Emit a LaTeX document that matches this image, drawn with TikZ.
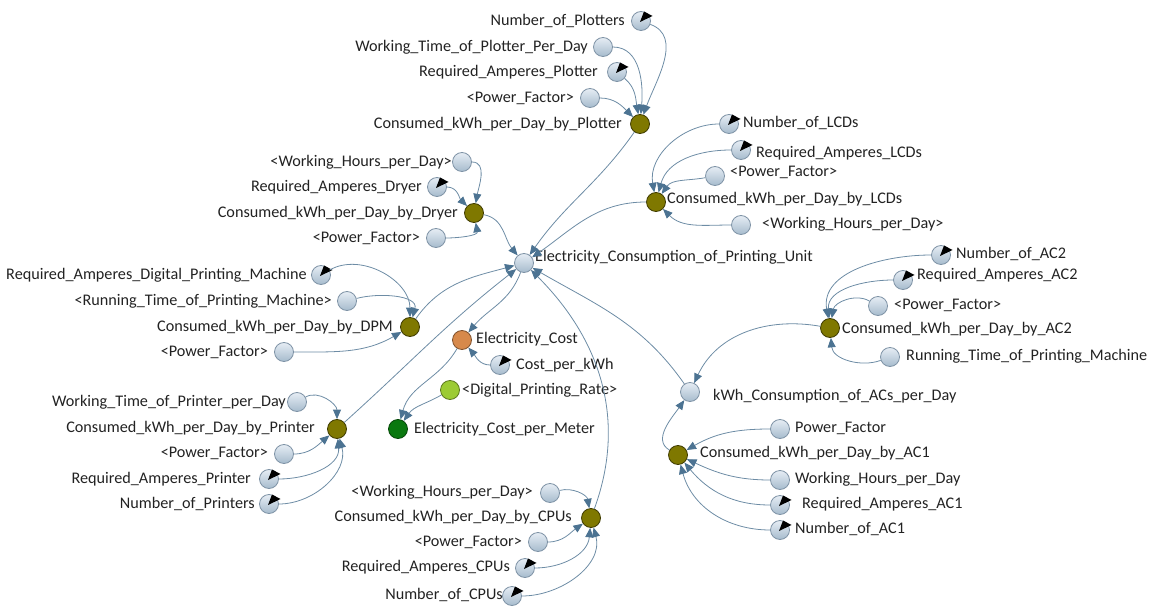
\documentclass[tikz,border=0pt]{standalone}
\usepackage{fontspec}
\setmainfont{Carlito}
\usetikzlibrary{arrows.meta}
\definecolor{linkc}{HTML}{6D8CA5}
\definecolor{tipc}{HTML}{4C7392}
\definecolor{rimc}{HTML}{7F93A6}
\definecolor{vtop}{HTML}{E6EDF4}
\definecolor{vbot}{HTML}{A6BBCD}
\definecolor{olive}{HTML}{7F7800}
\definecolor{olrim}{HTML}{3F3B00}
\definecolor{costc}{HTML}{D7894B}
\definecolor{ratec}{HTML}{9CCB33}
\definecolor{meterc}{HTML}{0A780F}
\definecolor{txt}{HTML}{222222}
\tikzset{
  var/.style={circle,minimum size=19pt,inner sep=0pt,draw=rimc,line width=0.8pt,
              top color=vtop,bottom color=vbot},
  aux/.style={circle,minimum size=19pt,inner sep=0pt,draw=olrim,line width=0.8pt,fill=olive},
  costv/.style={aux,fill=costc,draw=costc!60!black},
  ratev/.style={aux,fill=ratec,draw=ratec!60!black},
  meterv/.style={aux,fill=meterc,draw=meterc!60!black},
  lbl/.style={inner sep=0pt,text=txt,yshift=-2pt,font=\fontsize{16.2}{18}\selectfont},
  lw/.style={lbl,anchor=mid west},
  le/.style={lbl,anchor=mid east},
  link/.style={draw=linkc,line width=0.8pt,
               -{Triangle[length=9.5pt,width=8pt,fill=tipc,color=tipc]}},
}
\begin{document}
\begin{tikzpicture}[x=1pt,y=1pt]
\useasboundingbox (0,0) rectangle (1156,-612);

% ---- plotter block
\node[var] (NP)  at (641,-21)  {};
\node[var] (WTP) at (603,-47)  {};
\node[var] (RAP) at (617,-72)  {};
\node[var] (PFP) at (590,-98)  {};
\node[aux] (P)   at (640,-124) {};
\node[le] (tNP)  at (625,-21)  {Number\_of\_Plotters};
\node[le] (tWTP) at (588,-47)  {Working\_Time\_of\_Plotter\_Per\_Day};
\node[le] (tRAP) at (598,-72)  {Required\_Amperes\_Plotter};
\node[le] (tPFP) at (574,-98)  {<Power\_Factor>};
\node[le] (tP)   at (622,-124) {Consumed\_kWh\_per\_Day\_by\_Plotter};

% ---- LCD block
\node[var] (NL)  at (729,-124) {};
\node[var] (RAL) at (741,-150) {};
\node[var] (PFL) at (715,-176) {};
\node[aux] (L)   at (656,-202) {};
\node[var] (WHL) at (741,-225) {};
\node[lw] (tNL)  at (743,-123) {Number\_of\_LCDs};
\node[lw] (tRAL) at (756,-153) {Required\_Amperes\_LCDs};
\node[lw] (tPFL) at (730,-172) {<Power\_Factor>};
\node[lw] (tL)   at (667,-199) {Consumed\_kWh\_per\_Day\_by\_LCDs};
\node[lw] (tWHL) at (762,-224) {<Working\_Hours\_per\_Day>};

% ---- dryer block
\node[var] (WHD) at (462,-162) {};
\node[var] (RAD) at (437,-187) {};
\node[aux] (D)   at (474,-213) {};
\node[var] (PFD) at (436,-238) {};
\node[le] (tWHD) at (452,-162) {<Working\_Hours\_per\_Day>};
\node[le] (tRAD) at (422,-187) {Required\_Amperes\_Dryer};
\node[le] (tD)   at (458,-213) {Consumed\_kWh\_per\_Day\_by\_Dryer};
\node[le] (tPFD) at (420,-238) {<Power\_Factor>};

% ---- total consumption
\node[var] (E) at (524,-263) {};
\node[lw] (tE) at (535,-257) {Electricity\_Consumption\_of\_Printing\_Unit};

% ---- digital printing machine block
\node[var] (RAM) at (321,-275) {};
\node[var] (RTM) at (347,-301) {};
\node[aux] (M)   at (410,-327) {};
\node[var] (PFM) at (284,-352) {};
\node[le] (tRAM) at (307,-275) {Required\_Amperes\_Digital\_Printing\_Machine};
\node[le] (tRTM) at (332,-301) {<Running\_Time\_of\_Printing\_Machine>};
\node[le] (tM)   at (393,-327) {Consumed\_kWh\_per\_Day\_by\_DPM};
\node[le] (tPFM) at (268,-352) {<Power\_Factor>};

% ---- cost block
\node[costv]  (K)   at (462,-340) {};
\node[var]    (CK)  at (500,-365) {};
\node[ratev]  (DPR) at (450,-390) {};
\node[meterv] (CM)  at (398,-429) {};
\node[lw] (tK)   at (476,-339) {Electricity\_Cost};
\node[lw] (tCK)  at (516,-365) {Cost\_per\_kWh};
\node[lw] (tDPR) at (462,-390) {<Digital\_Printing\_Rate>};
\node[lw] (tCM)  at (414,-429) {Electricity\_Cost\_per\_Meter};

% ---- air conditioner blocks
\node[var] (NA2) at (941,-255) {};
\node[var] (RA2) at (903,-280) {};
\node[var] (PF2) at (878,-306) {};
\node[aux] (A2)  at (830,-328) {};
\node[var] (RT2) at (890,-357) {};
\node[var] (KA)  at (690,-392) {};
\node[var] (PF1) at (780,-429) {};
\node[aux] (A1)  at (678,-455) {};
\node[var] (WH1) at (780,-480) {};
\node[var] (RA1) at (780,-505) {};
\node[var] (N1)  at (780,-530) {};
\node[lw] (tNA2) at (956,-254) {Number\_of\_AC2};
\node[lw] (tRA2) at (917,-275) {Required\_Amperes\_AC2};
\node[lw] (tPF2) at (894,-305) {<Power\_Factor>};
\node[lw] (tA2)  at (842,-329) {Consumed\_kWh\_per\_Day\_by\_AC2};
\node[lw] (tRT2) at (906,-356) {Running\_Time\_of\_Printing\_Machine};
\node[lw] (tKA)  at (713,-396) {kWh\_Consumption\_of\_ACs\_per\_Day};
\node[lw] (tPF1) at (795,-428) {Power\_Factor};
\node[lw] (tA1)  at (700,-453) {Consumed\_kWh\_per\_Day\_by\_AC1};
\node[lw] (tWH1) at (795,-479) {Working\_Hours\_per\_Day};
\node[lw] (tRA1) at (802,-504) {Required\_Amperes\_AC1};
\node[lw] (tN1)  at (795,-529) {Number\_of\_AC1};

% ---- printer block
\node[var] (WTR) at (297,-402) {};
\node[aux] (R)   at (337,-429) {};
\node[var] (PFR) at (284,-454) {};
\node[var] (RAR) at (269,-479) {};
\node[var] (NR)  at (269,-504) {};
\node[le] (tWTR) at (286,-402) {Working\_Time\_of\_Printer\_per\_Day};
\node[le] (tR)   at (315,-428) {Consumed\_kWh\_per\_Day\_by\_Printer};
\node[le] (tPFR) at (268,-453) {<Power\_Factor>};
\node[le] (tRAR) at (251,-479) {Required\_Amperes\_Printer};
\node[le] (tNR)  at (255,-504) {Number\_of\_Printers};

% ---- CPU block
\node[var] (WHC) at (550,-493) {};
\node[aux] (C)   at (591,-518) {};
\node[var] (PFC) at (538,-542) {};
\node[var] (RAC) at (525,-568) {};
\node[var] (NC)  at (512,-596) {};
\node[le] (tWHC) at (533,-492) {<Working\_Hours\_per\_Day>};
\node[le] (tC)   at (572,-517) {Consumed\_kWh\_per\_Day\_by\_CPUs};
\node[le] (tPFC) at (522,-542) {<Power\_Factor>};
\node[le] (tRAC) at (510,-567) {Required\_Amperes\_CPUs};
\node[le] (tNC)  at (503,-595) {Number\_of\_CPUs};

% ---- gauge needles on constants
\foreach \n in {NP,RAP,NL,RAL,RAD,RAM,CK,NA2,RA2,RA1,N1,RAR,NR,RAC,NC}
  \fill[black] ([shift={(-1,-1)}]\n.center) -- ([shift={(3,9.5)}]\n.center)
               -- ([shift={(11.5,5)}]\n.center) -- cycle;

% ---- links
\draw[link] (NP)  to[out=-20,in=70]  (P);
\draw[link] (WTP) to[out=0,in=85]    (P);
\draw[link] (RAP) to[out=-40,in=100] (P);
\draw[link] (PFP) to[out=0,in=135]   (P);
\draw[link] (P)   to[out=-125,in=55] (E);

\draw[link] (NL)  to[out=180,in=100] (L);
\draw[link] (RAL) to[out=180,in=75]  (L);
\draw[link] (PFL) to[out=190,in=55]  (L);
\draw[link] (WHL) to[out=180,in=-45] (L);
\draw[link] (L)   to[out=180,in=35]  (E);

\draw[link] (WHD) to[out=0,in=80]    (D);
\draw[link] (RAD) to[out=0,in=135]   (D);
\draw[link] (PFD) to[out=0,in=-80]   (D);
\draw[link] (D)   to[out=-10,in=130] (E);

\draw[link] (RAM) to[out=30,in=90]   (M);
\draw[link] (RTM) to[out=15,in=75]   (M);
\draw[link] (PFM) to[out=0,in=210]   (M);
\draw[link] (M)   to[out=55,in=195]  (E);

\draw[link] (WTR) to[out=30,in=90]   (R);
\draw[link] (PFR) to[out=0,in=220]   (R);
\draw[link] (RAR) to[out=0,in=-85]   (R);
\draw[link] (NR)  to[out=0,in=-75]   (R);
\draw[link] (R)   to[out=42,in=218]  (E);

\draw[link] (WHC) to[out=15,in=100]  (C);
\draw[link] (PFC) to[out=0,in=215]   (C);
\draw[link] (RAC) to[out=0,in=-95]   (C);
\draw[link] (NC)  to[out=0,in=-75]   (C);
\draw[link] (C)   to[out=70,in=-45]  (E);

\draw[link] (E)   to[out=-110,in=50] (K);
\draw[link] (CK)  to[out=180,in=-50] (K);
\draw[link] (K)   to[out=-120,in=75] (CM);
\draw[link] (DPR) to[out=210,in=55]  (CM);

\draw[link] (KA)  to[out=125,in=-30] (E);
\draw[link] (A2)  to[out=170,in=65]  (KA);
\draw[link] (NA2) to[out=180,in=100] (A2);
\draw[link] (RA2) to[out=180,in=95]  (A2);
\draw[link] (PF2) to[out=150,in=80]  (A2);
\draw[link] (RT2) to[out=200,in=-85] (A2);
\draw[link] (A1)  to[out=150,in=-125] (KA);
\draw[link] (PF1) to[out=180,in=30]  (A1);
\draw[link] (WH1) to[out=180,in=-25] (A1);
\draw[link] (RA1) to[out=180,in=-50] (A1);
\draw[link] (N1)  to[out=180,in=-75] (A1);
\end{tikzpicture}
\end{document}
